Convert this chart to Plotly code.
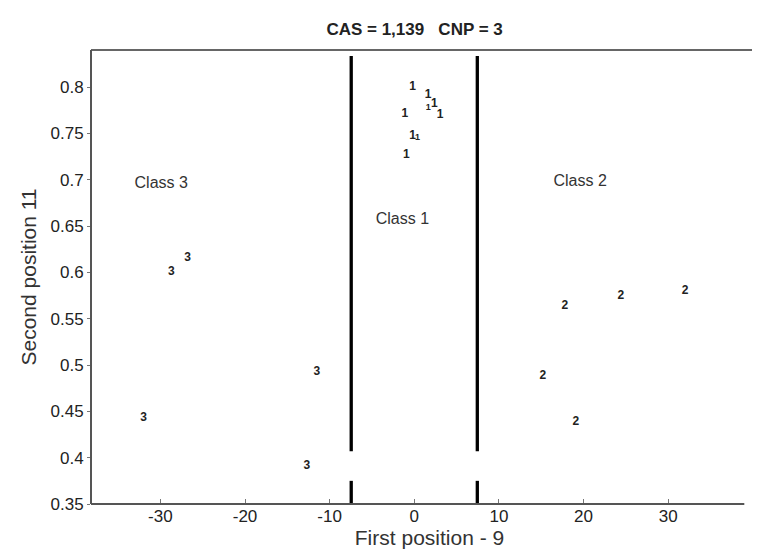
import plotly.graph_objects as go

# Data
class1_x = [-0.21, 1.64, 1.64, 2.36, 3.04, -1.10, -0.21, 0.38, -0.93]
class1_y = [0.800, 0.791, 0.778, 0.782, 0.770, 0.771, 0.747, 0.745, 0.727]
class2_x = [32.0, 24.4, 17.8, 15.2, 19.1]
class2_y = [0.580, 0.574, 0.564, 0.488, 0.439]
class3_x = [-26.8, -28.7, -11.5, -32.0, -12.7]
class3_y = [0.616, 0.600, 0.493, 0.443, 0.391]
boundaries = [-7.45, 7.45]
class_labels = ["Class 3", "Class 1", "Class 2"]
label_x = [-29.9, -1.4, 19.6]
label_y = [0.695, 0.657, 0.698]
x_ticks = [-30, -20, -10, 0, 10, 20, 30]
y_ticks = [0.35, 0.4, 0.45, 0.5, 0.55, 0.6, 0.65, 0.7, 0.75, 0.8]
y_tick_text = ["0.35", "0.4", "0.45", "0.5", "0.55", "0.6", "0.65", "0.7", "0.75", "0.8"]

FONT = "Liberation Sans, Arial, sans-serif"
X_RANGE = [-38.2, 41.8]
Y_RANGE = [0.35, 0.84]

fig = go.Figure()

small = 9
normal = 12
class1_sizes = [normal, normal, small, normal, normal, normal, normal, small, normal]

for xs, ys, lab, sizes in [(class1_x, class1_y, "1", class1_sizes),
                           (class2_x, class2_y, "2", [normal] * len(class2_x)),
                           (class3_x, class3_y, "3", [normal] * len(class3_x))]:
    fig.add_trace(go.Scatter(
        x=xs, y=ys, mode="text", text=["<b>%s</b>" % lab] * len(xs),
        textfont=dict(family=FONT, size=sizes, color="#222"),
        textposition="middle center", showlegend=False, hoverinfo="x+y"))

fig.add_trace(go.Scatter(
    x=label_x, y=label_y, mode="text", text=class_labels,
    textfont=dict(family=FONT, size=16, color="#333"),
    textposition="middle center", showlegend=False))

shapes = []
for b in boundaries:
    shapes.append(dict(type="line", xref="x", yref="y", x0=b, x1=b, y0=0.8335, y1=0.407,
                       line=dict(color="black", width=3.3)))
    shapes.append(dict(type="line", xref="x", yref="y", x0=b, x1=b, y0=0.375, y1=0.35,
                       line=dict(color="black", width=3.3)))
# frame: top line to edge, bottom axis line, left axis line
shapes.append(dict(type="line", xref="paper", yref="paper", x0=0, x1=1, y0=1, y1=1,
                   line=dict(color="#666", width=2)))
shapes.append(dict(type="line", xref="paper", yref="paper", x0=0, x1=0.965, y0=0, y1=0,
                   line=dict(color="#555", width=2)))
shapes.append(dict(type="line", xref="paper", yref="paper", x0=0, x1=0, y0=0, y1=1,
                   line=dict(color="#555", width=2)))

fig.update_layout(
    width=760, height=550,
    margin=dict(l=83, r=0, t=42, b=54),
    paper_bgcolor="white", plot_bgcolor="white",
    shapes=shapes,
    title=dict(text="<b>CAS = 1,139   CNP = 3</b>", x=0.535, xanchor="center", y=0.961, yanchor="middle",
               font=dict(family=FONT, size=17, color="#222")),
    xaxis=dict(range=X_RANGE, tickvals=x_ticks, ticktext=[str(t) for t in x_ticks],
               showgrid=False, zeroline=False, showline=False,
               ticks="inside", ticklen=5, tickcolor="#777",
               tickfont=dict(family=FONT, size=17, color="#222"),
               title=dict(text="First position - 9", font=dict(family=FONT, size=21, color="#333"), standoff=3)),
    yaxis=dict(range=Y_RANGE, tickvals=y_ticks, ticktext=y_tick_text,
               showgrid=False, zeroline=False, showline=False,
               ticks="outside", ticklen=3, tickcolor="#777",
               tickfont=dict(family=FONT, size=17, color="#222"),
               title=dict(text="Second position 11", font=dict(family=FONT, size=21, color="#333"), standoff=8)),
)

fig.write_html("out.html")
